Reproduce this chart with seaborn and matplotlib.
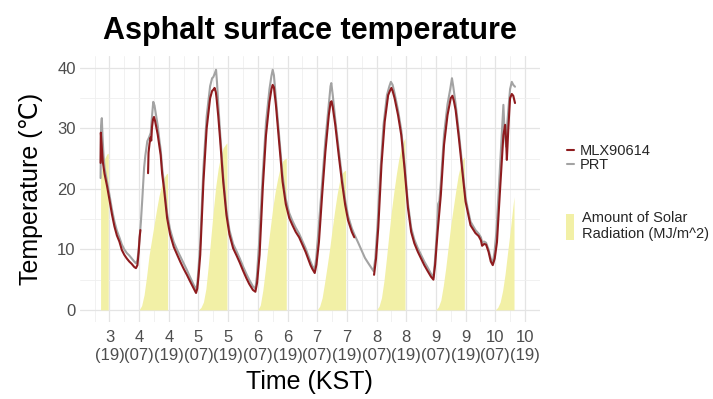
import numpy as np
import pandas as pd
import matplotlib
matplotlib.use("Agg")
import matplotlib.pyplot as plt
from matplotlib.lines import Line2D
from matplotlib.patches import Patch
import seaborn as sns

# -----------------------------------------
# Data (hours counted from day 3, 00:00 KST)
# -----------------------------------------
mlx_hours = [15.4, 15.5, 15.8, 16.3, 17, 18, 19, 20, 21, 22, 23, 24, 25, 26, 27, 28, 29, 29.7,
             30.3, 30.8, 31.2, 31.5, np.nan,
             34.6, 34.8, 35.2, 35.6, 35.9, 36.2, 36.6, 37.0, 37.4, 37.8, 38.5, 39.2, 39.7, 40.3,
             41, 42.3, 43.5, 45, 46.5, 47.7, 49, 50.3, 51.5, 53, 54, 54.5, 55, 55.7, 57, 58.3,
             59.7, 60.5, 61, 61.5, 62, 62.3, 63, 63.7, 65, 66.3, 67.5, 69, 70.5, 71.7, 73, 74.3,
             75.5, 77, 78, 78.7, 79.7, 81, 82.3, 83.7, 84.5, 85, 85.5, 86.3, 87.7, 89, 90.3,
             91.7, 93, 94.3, 95.7, 97, 98.3, 99.3, 100.3, 101, 102, 102.7, 103.7, 105, 106.3,
             107.7, 108.4, 108.8, 109.3, 110.3, 111.7, 113, 114.3, 115.5, 117, 118, np.nan,
             126, 126.8, 127.7, 129, 130.3, 131.7, 132.5, 133, 133.5, 134.3, 135.7, 137, 138.3,
             139.7, 141, 142.3, 143.7, 145, 146.3, 147.7, 149, 150, 150.7, 151.7, 153, 154.3,
             155.7, 157, 157.7, 158.3, 159, 160.3, 161.7, 163, 165, 167, 168.3, 169.2, 169.7,
             170.5, 171.3, 172.3, 173.2, 174, 174.8, 175.7, 177, 178.3, 179, 179.4, 179.7,
             180.3, 181, 181.7, 182.3, 183]
mlx_temp = [24.3, 29.3, 27.5, 24.5, 22.5, 20.5, 18.2, 15.8, 13.8, 12.3, 11.3, 9.9, 9.1, 8.5,
            8.0, 7.6, 7.1, 6.9, 7.4, 9.5, 12.0, 13.2, np.nan,
            22.6, 26, 27.5, 28.5, 28, 30.2, 31.5, 31.9, 31.3, 30.5, 29, 27, 25.6, 22.5,
            20.2, 15.2, 12.5, 10.4, 9.0, 7.9, 6.8, 5.8, 4.8, 3.6, 2.8, 3.5, 5.5, 9.1, 21.2, 30.0,
            35.0, 36.2, 36.4, 36.7, 36, 35, 32, 28.4, 21.2, 15.7, 12.5, 10.2, 8.9, 7.8, 6.5, 5.3,
            4.3, 3.3, 3.0, 4.5, 9.1, 20.2, 28.9, 34.4, 36.5, 37.2, 36.8, 33.9, 27.3, 21.2, 17.5,
            15.2, 14, 12.9, 12.0, 10.8, 9.6, 8.5, 7.4, 6.8, 6.1, 7.5, 11.2, 19, 26.1,
            32.2, 34.3, 34.5, 33.5, 30.6, 25.6, 21.2, 17.4, 14.8, 12.9, 12.0, np.nan,
            5.8, 8.5, 13.6, 24, 31.1, 35.5, 36.3, 36.7, 36.2, 35, 32.2, 28.9, 23.5,
            16.9, 12.9, 11, 9.6, 8.5, 7.4, 6.4, 5.5, 5.0, 7.5, 12.9, 19, 27.3,
            32.2, 35, 35.4, 34.5, 33, 28.4, 22.9, 17.9, 14, 12.7, 12.2, 11.5, 10.6,
            10.9, 10.8, 9.6, 8.0, 7.4, 8.5, 11.2, 20.2, 28.9, 30.6, 28, 24.8,
            30, 35, 35.7, 35.4, 34.2]

prt_hours = [15.4, 15.6, 15.9, 16.2, 16.6, 17, 18, 19, 20, 21, 22, 23, 24, 25, 26, 27, 28, 29,
             29.7, 30.3, 30.8, 31.3, 31.7, 32.3, 33, 33.5, 34.3, 35, 35.7, 36.2, 36.7, 37.2,
             37.7, 38.5, 39.2, 39.7, 40.3, 41, 42.3, 43.5, 45, 46.5, 47.7, 49, 50.3, 51.5, 53,
             54, 54.5, 55, 55.7, 57, 58.3, 59.7, 60.5, 61, 61.5, 62.1, 62.5, 63, 63.7, 65, 66.3,
             67.5, 69, 70.5, 71.7, 73, 74.3, 75.5, 77, 78, 78.6, 79.5, 81, 82.3, 83.7, 84.5, 85,
             85.5, 86.3, 87.7, 89, 90.3, 91.7, 93, 94.3, 95.7, 97, 98.3, 99.3, 100.3, 101, 102,
             102.6, 103.5, 105, 106.3, 107.7, 108.4, 108.7, 109.3, 110.3, 111.7, 113, 114.3,
             115.5, 117, 118, 119.7, 121, 122.3, 123.7, 125, 125.8, 126.5, 127.4, 128.5, 129.8,
             131.2, 132.2, 132.8, 133.5, 134.3, 135.7, 137, 138.3, 139.7, 141, 142.3, 143.7,
             145, 146.3, 147.7, 149, 150, 150.6, 151.4, 151.9, 152.4, 153, 154.3, 155.7, 156.8,
             157.5, 158, 159, 160.3, 161.7, 163, 165, 167, 168.3, 169.2, 169.7, 170.5, 171.3,
             172.3, 173.2, 174, 174.7, 175.5, 176.7, 177.5, 178.3, 178.7, 179, 179.4, 179.7,
             180.3, 181, 181.7, 182.3, 183]
prt_temp = [21.8, 30.5, 31.7, 28.5, 25.5, 23.5, 21.3, 19.0, 16.6, 14.6, 13.1, 12.0, 10.8, 10.0,
            9.4, 9.0, 8.5, 8.0, 7.7, 8.2, 10.0, 12.5, 14.5, 18.5, 23.5, 25.5, 27.9, 28.5, 29.3,
            32, 34.4, 33.8, 32.5, 30.5, 28, 26.5, 23.5, 21, 16, 13.3, 11.2, 9.8, 8.8, 7.7, 6.6,
            5.5, 4.2, 3.4, 4.2, 6.8, 11, 23.5, 32, 37, 38.3, 38.5, 39.0, 39.7, 37.5, 34, 29.5,
            22, 16.5, 13.2, 10.9, 9.6, 8.5, 7.2, 6.0, 5.0, 3.9, 3.5, 5.5, 11, 22.5, 31, 36.5,
            38.7, 39.7, 38.8, 35, 28.5, 22.2, 18.3, 16, 14.7, 13.6, 12.6, 11.4, 10.2, 9.1, 8.0,
            7.3, 6.7, 8.5, 13, 21, 28, 34, 37, 37.5, 35.5, 31.5, 26.5, 22, 18.2, 15.5, 13.5,
            12.5, 11, 9.8, 8.6, 7.7, 6.9, 6.4, 8.5, 14, 22.5, 30.5, 35.5, 37, 37.7, 37.2, 35.8,
            33, 29.7, 24.3, 17.6, 13.6, 11.6, 10.2, 9.1, 8.0, 7.0, 6.0, 5.4, 8.0, 13, 17.5, 18,
            21, 29, 34, 36.5, 38.3, 37, 34, 29.3, 23.7, 18.5, 14.6, 13.2, 12.6, 12.0, 11.2,
            11.3, 11.1, 10.0, 8.5, 7.8, 9.5, 13, 22, 28, 33.9, 30, 28.5, 27, 30, 33, 36.5,
            37.7, 37.2, 36.9]

# cumulative solar radiation (MJ/m^2), sampled at these hours of the day
sun_hours = [7, 8, 9, 10, 11, 12, 13, 14, 15, 16, 17, 18, 18.5]
solar_day3_hours = [15.4, 16, 17, 18, 18.5]
solar_day3 = [22, 23.5, 25, 25.8, 25.9]
solar_day4 = [0, 0.7, 2.5, 5.5, 9, 11.5, 14, 16.5, 18.8, 20.5, 21.8, 22.5, 22.6]
solar_day5 = [0, 0.4, 1.3, 3.5, 7.5, 12, 16.5, 20.5, 23.5, 25.5, 26.8, 27.4, 27.6]
solar_day6 = [0, 0.8, 3.2, 6.5, 10.2, 13.5, 16.8, 19.5, 21.7, 23.5, 24.6, 25.0, 25.1]
solar_day7 = [0, 0.6, 2, 4.5, 7.2, 10, 13.2, 16.2, 19, 21.2, 22.6, 23.0, 23.1]
solar_day8 = [0, 0.6, 2, 4.8, 8.5, 12.5, 16.3, 19.5, 22.4, 25, 26.9, 28.0, 28.4]
solar_day9 = [0, 0.5, 1.6, 4, 7, 10.5, 14, 16.8, 19.6, 22.2, 24, 25, 25.3]
solar_day10_hours = [7, 8, 9, 10, 11, 12, 13, 14, 14.6]
solar_day10 = [0, 0.4, 1.3, 3.2, 6, 9.5, 12.9, 16.6, 18.7]

tick_days = [3, 4, 4, 5, 5, 6, 6, 7, 7, 8, 8, 9, 9, 10, 10]
tick_clock = ["19", "07", "19", "07", "19", "07", "19", "07", "19", "07", "19", "07", "19", "07", "19"]

# -----------------------------------------
# Build long table, split into segments at gaps
# -----------------------------------------
frames = []
for name, hrs, vals in [("PRT", prt_hours, prt_temp), ("MLX90614", mlx_hours, mlx_temp)]:
    h = np.array(hrs, dtype=float)
    v = np.array(vals, dtype=float)
    seg = np.cumsum(np.isnan(v))
    df = pd.DataFrame({"hour": h, "temp": v, "sensor": name, "seg": seg})
    frames.append(df.dropna())
temps = pd.DataFrame(pd.concat(frames, ignore_index=True))

solar_days = [(3, solar_day3_hours, solar_day3), (4, sun_hours, solar_day4),
              (5, sun_hours, solar_day5), (6, sun_hours, solar_day6),
              (7, sun_hours, solar_day7), (8, sun_hours, solar_day8),
              (9, sun_hours, solar_day9), (10, solar_day10_hours, solar_day10)]

# -----------------------------------------
# Plot
# -----------------------------------------
sns.set_theme(style="whitegrid")
plt.rcParams["font.family"] = ["Liberation Sans", "DejaVu Sans"]

mlx_col = "#8E1B1E"
prt_col = "#A3A3A3"
sun_col = "#F2F0A6"

fig, ax = plt.subplots(figsize=(7.13, 3.99), dpi=100)
fig.subplots_adjust(left=0.112, right=0.757, top=0.86, bottom=0.193)

for day, hrs, vals in solar_days:
    x = (day - 3) * 24 + np.array(hrs, dtype=float)
    x = np.concatenate([[x[0]], x, [x[-1]]])
    y = np.concatenate([[0], vals, [0]])
    ax.fill_between(x, 0, y, color=sun_col, linewidth=0, zorder=1)

sns.lineplot(data=temps, x="hour", y="temp", hue="sensor", units="seg", estimator=None,
             sort=False, hue_order=["PRT", "MLX90614"],
             palette={"PRT": prt_col, "MLX90614": mlx_col},
             linewidth=1.5, legend=False, ax=ax, zorder=3)

lo, hi = temps["hour"].min(), temps["hour"].max()
pad = (hi - lo) * 0.05
ax.set_xlim(lo - pad, hi + pad)
ax.set_ylim(-2, 42)

tick_pos = [(d - 3) * 24 + int(c) for d, c in zip(tick_days, tick_clock)]
ax.set_xticks(tick_pos)
ax.set_xticklabels([f"{d}\n({c})" for d, c in zip(tick_days, tick_clock)])
ax.set_xticks([p - 6 for p in tick_pos] + [tick_pos[-1] + 6], minor=True)
ax.set_yticks([0, 10, 20, 30, 40])
ax.set_yticks([5, 15, 25, 35], minor=True)

ax.grid(which="major", color="#E4E4E4", linewidth=0.9)
ax.grid(which="minor", color="#EFEFEF", linewidth=0.6)
for s in ax.spines.values():
    s.set_visible(False)
ax.tick_params(axis="both", which="both", length=0, labelsize=12, labelcolor="#4D4D4D", pad=3)
ax.tick_params(axis="x", pad=6)
for lab in ax.get_xticklabels():
    lab.set_linespacing(1.25)

ax.set_xlabel("Time (KST)", fontsize=18, color="black", labelpad=5)
ax.set_ylabel("Temperature (\u2103)", fontsize=18, color="black", labelpad=10)
ax.set_title("Asphalt surface temperature", fontsize=22, fontweight="bold", color="black", pad=12)

line_handles = [Line2D([], [], color=mlx_col, lw=1.5), Line2D([], [], color=prt_col, lw=1.5)]
leg1 = fig.legend(line_handles, ["MLX90614", "PRT"], loc="upper left",
                  bbox_to_anchor=(0.785, 0.658), frameon=False, fontsize=10.5,
                  handlelength=0.5, handletextpad=0.4, labelspacing=0.05, borderpad=0)
leg2 = fig.legend([Patch(facecolor=sun_col, edgecolor="none")],
                  ["Amount of Solar\nRadiation (MJ/m^2)"], loc="upper left",
                  bbox_to_anchor=(0.784, 0.49), frameon=False, fontsize=10.5,
                  handlelength=0.55, handleheight=2.4, handletextpad=0.5, borderpad=0)

fig.savefig("out.png", dpi=100)
